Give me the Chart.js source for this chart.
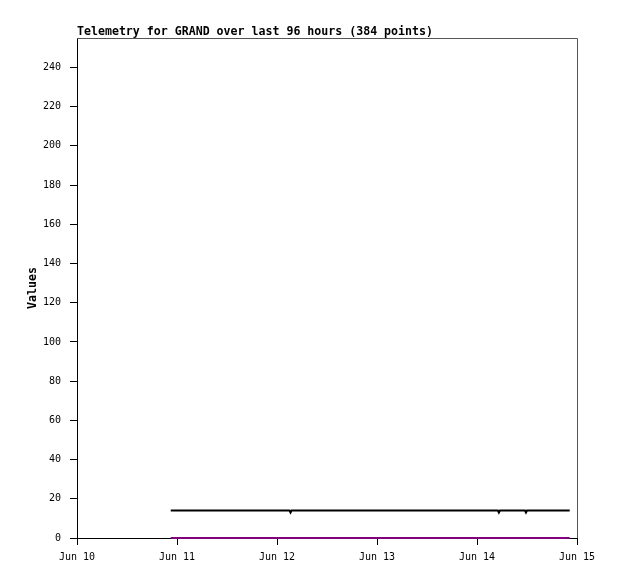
<!DOCTYPE html>
<html>
<head>
<meta charset="utf-8">
<script src="https://cdn.jsdelivr.net/npm/chart.js@4/dist/chart.umd.min.js"></script>
<style>
  html, body { margin: 0; padding: 0; background: #fff; }
  canvas { display: block; }
</style>
</head>
<body>
<canvas id="telemetry" width="618" height="579"></canvas>
<script>
// hours counted from Jun 10 00:00
var dayLabels = ['Jun 10', 'Jun 11', 'Jun 12', 'Jun 13', 'Jun 14', 'Jun 15'];
var dayHours = [0, 24, 48, 72, 96, 120];
var yTicks = [0, 20, 40, 60, 80, 100, 120, 140, 160, 180, 200, 220, 240];

var blackHours = [22.5, 51.0, 51.25, 51.5, 101.0, 101.25, 101.5, 107.5, 107.75, 108.0, 118.25];
var blackValues = [14, 14, 13, 14, 14, 13, 14, 14, 13, 14, 14];
var purpleHours = [22.5, 118.25];
var purpleValues = [0, 0];

function pairs(xs, ys) {
  var out = [];
  for (var i = 0; i < xs.length; i++) out.push({x: xs[i], y: ys[i]});
  return out;
}

var monoFont = 'DejaVu Sans Mono';

var frameAndTitle = {
  id: 'frameAndTitle',
  afterDraw: function(chart) {
    var ctx = chart.ctx, a = chart.chartArea;
    ctx.save();
    ctx.strokeStyle = '#555';
    ctx.lineWidth = 1;
    ctx.beginPath();
    ctx.moveTo(a.left, a.top + 0.5);
    ctx.lineTo(a.right + 0.5, a.top + 0.5);
    ctx.lineTo(a.right + 0.5, a.bottom);
    ctx.stroke();
    ctx.fillStyle = '#000';
    ctx.font = 'bold 11.6px ' + monoFont;
    ctx.textAlign = 'left';
    ctx.textBaseline = 'alphabetic';
    ctx.fillText('Telemetry for GRAND over last 96 hours (384 points)', a.left, a.top - 3);
    ctx.restore();
  }
};

new Chart(document.getElementById('telemetry'), {
  type: 'line',
  data: {
    datasets: [
      {data: pairs(blackHours, blackValues), borderColor: '#000', borderWidth: 2, pointRadius: 0, tension: 0, fill: false, clip: false},
      {data: pairs(purpleHours, purpleValues), borderColor: '#800080', borderWidth: 2, pointRadius: 0, tension: 0, fill: false, clip: false}
    ]
  },
  options: {
    responsive: false,
    animation: false,
    events: [],
    layout: {padding: {left: 0, right: 41, top: 38, bottom: 0}},
    plugins: {legend: {display: false}, tooltip: {enabled: false}, title: {display: false}},
    scales: {
      x: {
        type: 'linear',
        min: 0,
        max: 120,
        afterBuildTicks: function(s) { s.ticks = dayHours.map(function(v) { return {value: v}; }); },
        afterFit: function(s) { s.height = 41; },
        ticks: {
          autoSkip: false,
          maxRotation: 0,
          padding: 6,
          color: '#000',
          font: {family: monoFont, size: 10},
          callback: function(v) { return dayLabels[dayHours.indexOf(v)]; }
        },
        grid: {drawOnChartArea: false, drawTicks: true, tickLength: 7, tickColor: '#000'},
        border: {color: '#000', width: 1}
      },
      y: {
        min: 0,
        max: 255,
        afterBuildTicks: function(s) { s.ticks = yTicks.map(function(v) { return {value: v}; }); },
        afterFit: function(s) { s.width = 77; },
        ticks: {
          padding: 9,
          color: '#000',
          font: {family: monoFont, size: 10}
        },
        grid: {drawOnChartArea: false, drawTicks: true, tickLength: 7, tickColor: '#000'},
        border: {color: '#000', width: 1},
        title: {
          display: true,
          text: 'Values',
          color: '#000',
          font: {family: monoFont, size: 11.6, weight: 'bold'},
          padding: {top: 26, bottom: 0}
        }
      }
    }
  },
  plugins: [frameAndTitle]
});
</script>
</body>
</html>
